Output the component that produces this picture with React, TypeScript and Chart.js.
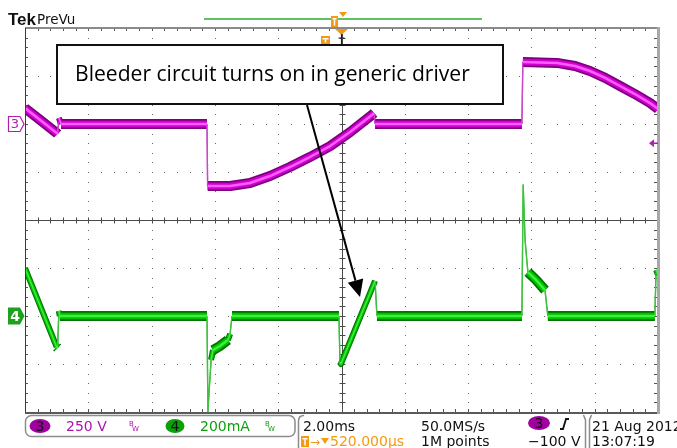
import React, { useEffect, useRef } from "react";
import { Chart, registerables } from "chart.js";

Chart.register(...registerables);

// Channel 3 (magenta) – time in ms relative to trigger, voltage in V
const ch3Time = [-10.0, -9.52, -9.0, -8.97, -8.93, -8.86, -4.25, -4.23, -3.52, -2.89, -2.26, -1.63, -1.0, -0.36, 0.27, 0.96, 1.03, 1.06, 5.7, 5.73, 6.81, 7.38, 7.85, 8.33, 8.8, 9.27, 9.75, 10.0];
const ch3Volts = [83, 21, -47, -52, 31, 0, 0, -323, -323, -307, -271, -224, -172, -115, -42, 47, 57, 0, 0, 323, 318, 302, 276, 240, 198, 156, 109, 78];

// Channel 4 (green) – time in ms, current in mA
const ch4Time = [-10.0, -9.0, -8.97, -8.93, -8.9, -4.25, -4.22, -4.19, -4.12, -4.06, -3.84, -3.59, -3.52, -3.46, -0.08, -0.05, -0.02, 1.06, 1.12, 5.7, 5.74, 5.8, 5.86, 5.89, 6.15, 6.43, 6.52, 9.9, 9.94, 10.0];
const ch4mA = [200, -129, -133, 21, 0, 0, -400, -329, -183, -142, -125, -100, -75, 0, 0, -192, -200, 146, 0, 0, 546, 317, 225, 183, 150, 108, 0, 0, 192, 171];

const timeRange = [-10, 10]; // ms (2.00 ms/div)
const ch3Range = [-1500, 500]; // V (250 V/div)
const ch4Range = [-400, 1200]; // mA (200 mA/div)

const annotationText = "Bleeder circuit turns on in generic driver";
const statusRow1 = { ch3Scale: "250 V", ch4Scale: "200mA", timebase: "2.00ms", rate: "50.0MS/s", date: "21 Aug 2012" };
const statusRow2 = { delay: "520.000µs", points: "1M points", trigLevel: "\u2212100 V", time: "13:07:19" };

const FONT = '"DejaVu Sans", sans-serif';

function segStyle(base: number, mid: number, thin: number, color: string, thinColor: string) {
  const ratio = (c: any) => Math.abs(c.p1.y - c.p0.y) / Math.max(Math.abs(c.p1.x - c.p0.x), 0.01);
  return {
    borderWidth: (c: any) => {
      const r = ratio(c);
      return r > 6 ? thin : r > 1.2 ? mid : base;
    },
    borderColor: (c: any) => (ratio(c) > 6 ? thinColor : color),
  };
}

function layer(data: any[], yAxisID: string, color: string, base: number, mid: number, thin: number, thinColor: string, order: number) {
  return {
    data,
    yAxisID,
    borderColor: color,
    borderWidth: base,
    pointRadius: 0,
    tension: 0,
    fill: false,
    order,
    borderJoinStyle: "round" as const,
    segment: segStyle(base, mid, thin, color, thinColor),
  };
}

function pill(ctx: CanvasRenderingContext2D, cx: number, cy: number, rx: number, ry: number, fill: string, label: string) {
  ctx.beginPath();
  ctx.ellipse(cx, cy, rx, ry, 0, 0, Math.PI * 2);
  ctx.fillStyle = fill;
  ctx.fill();
  ctx.fillStyle = "#111";
  ctx.font = `14px ${FONT}`;
  ctx.textAlign = "center";
  ctx.textBaseline = "middle";
  ctx.fillText(label, cx, cy + 1);
  ctx.textAlign = "left";
}

function tIcon(ctx: CanvasRenderingContext2D, x: number, y: number, w: number, h: number) {
  ctx.fillStyle = "#f39a12";
  ctx.fillRect(x, y, w, h);
  ctx.fillStyle = "#fff";
  ctx.fillRect(x + 1.5, y + 2, w - 3, 1.5);
  ctx.fillRect(x + w / 2 - 0.75, y + 3.5, 1.5, h - 5);
}

const scopePlugin = {
  id: "scope",
  beforeDraw(chart: any) {
    const ctx = chart.ctx as CanvasRenderingContext2D;
    ctx.save();
    ctx.fillStyle = "#fff";
    ctx.fillRect(0, 0, chart.width, chart.height);
    ctx.restore();
  },
  beforeDatasetsDraw(chart: any) {
    const ctx = chart.ctx as CanvasRenderingContext2D;
    const { left, right, top, bottom } = chart.chartArea;
    const dw = (right - left) / 10;
    const dh = (bottom - top) / 8;
    ctx.save();
    // dotted graticule
    ctx.fillStyle = "#6a6a6a";
    for (let i = 1; i < 10; i++) {
      if (i === 5) continue;
      const x = Math.round(left + i * dw);
      for (let k = 1; k < 40; k++) ctx.fillRect(x, Math.round(top + (k * dh) / 5), 1, 1);
    }
    for (let j = 1; j < 8; j++) {
      if (j === 4) continue;
      const y = Math.round(top + j * dh);
      for (let k = 1; k < 50; k++) ctx.fillRect(Math.round(left + (k * dw) / 5), y, 1, 1);
    }
    // centre lines with minor ticks
    ctx.strokeStyle = "#4a4a4a";
    ctx.lineWidth = 1;
    const cy = Math.round(top + 4 * dh) + 0.5;
    const cx = Math.round(left + 5 * dw) + 0.5;
    ctx.beginPath();
    ctx.moveTo(left, cy);
    ctx.lineTo(right, cy);
    ctx.moveTo(cx, top);
    ctx.lineTo(cx, bottom);
    for (let k = 1; k < 50; k++) {
      const x = Math.round(left + (k * dw) / 5) + 0.5;
      ctx.moveTo(x, cy - 3);
      ctx.lineTo(x, cy + 3);
    }
    for (let k = 1; k < 40; k++) {
      const y = Math.round(top + (k * dh) / 5) + 0.5;
      ctx.moveTo(cx - 3, y);
      ctx.lineTo(cx + 3, y);
    }
    ctx.stroke();
    // border ticks
    ctx.strokeStyle = "#555";
    ctx.beginPath();
    for (let k = 1; k < 50; k++) {
      const x = Math.round(left + (k * dw) / 5) + 0.5;
      ctx.moveTo(x, top);
      ctx.lineTo(x, top + 3);
      ctx.moveTo(x, bottom);
      ctx.lineTo(x, bottom - 3);
    }
    for (let k = 1; k < 40; k++) {
      const y = Math.round(top + (k * dh) / 5) + 0.5;
      ctx.moveTo(left, y);
      ctx.lineTo(left + 3, y);
      ctx.moveTo(right, y);
      ctx.lineTo(right - 4, y);
    }
    ctx.stroke();
    ctx.restore();
  },
  afterDatasetsDraw(chart: any) {
    const ctx = chart.ctx as CanvasRenderingContext2D;
    const { left, right, top, bottom } = chart.chartArea;
    ctx.save();
    // frame
    ctx.fillStyle = "#8a8a8a";
    ctx.fillRect(left, top - 1, right - left + 2, 2);
    ctx.fillStyle = "#3a3a3a";
    ctx.fillRect(left, top, 1, bottom - top);
    ctx.fillStyle = "#5a5a5a";
    ctx.fillRect(left, bottom, right - left + 2, 2);
    ctx.fillStyle = "#a8a8a8";
    ctx.fillRect(right - 1, top - 1, 3, bottom - top + 3);

    // annotation box
    const bx = 56, by = 44, bw = 448, bh = 61;
    ctx.fillStyle = "#fff";
    ctx.fillRect(bx, by, bw, bh);
    ctx.strokeStyle = "#111";
    ctx.lineWidth = 2;
    ctx.strokeRect(bx + 1, by + 1, bw - 2, bh - 2);
    let size = 19;
    ctx.font = `${size}px "Open Sans", sans-serif`;
    const m = ctx.measureText(annotationText).width;
    size = (size * 395) / m;
    ctx.font = `${size}px "Open Sans", sans-serif`;
    ctx.fillStyle = "#000";
    ctx.textBaseline = "middle";
    ctx.fillText(annotationText, 75, 75);

    // arrow
    const x0 = 307, y0 = by + bh, tx = 360, ty = 297;
    const ang = Math.atan2(ty - y0, tx - x0);
    const hl = 17, hw = 8;
    const bxp = tx - hl * Math.cos(ang), byp = ty - hl * Math.sin(ang);
    ctx.strokeStyle = "#000";
    ctx.lineWidth = 2;
    ctx.beginPath();
    ctx.moveTo(x0, y0);
    ctx.lineTo(bxp, byp);
    ctx.stroke();
    ctx.beginPath();
    ctx.moveTo(tx, ty);
    ctx.lineTo(bxp + hw * Math.sin(ang), byp - hw * Math.cos(ang));
    ctx.lineTo(bxp - hw * Math.sin(ang), byp + hw * Math.cos(ang));
    ctx.closePath();
    ctx.fillStyle = "#000";
    ctx.fill();

    // channel ground markers
    const y3 = chart.scales.y3.getPixelForValue(0);
    const y4 = chart.scales.y4.getPixelForValue(0);
    ctx.lineWidth = 1.2;
    ctx.strokeStyle = "#b020b0";
    ctx.fillStyle = "#fff";
    ctx.beginPath();
    ctx.moveTo(8.5, y3 - 7.5);
    ctx.lineTo(20, y3 - 7.5);
    ctx.lineTo(24, y3);
    ctx.lineTo(20, y3 + 7.5);
    ctx.lineTo(8.5, y3 + 7.5);
    ctx.closePath();
    ctx.fill();
    ctx.stroke();
    ctx.fillStyle = "#b020b0";
    ctx.font = `13px ${FONT}`;
    ctx.textAlign = "center";
    ctx.fillText("3", 15, y3 + 1);

    ctx.fillStyle = "#1fa01f";
    ctx.beginPath();
    ctx.moveTo(8, y4 - 8.5);
    ctx.lineTo(20, y4 - 8.5);
    ctx.lineTo(24.5, y4);
    ctx.lineTo(20, y4 + 8.5);
    ctx.lineTo(8, y4 + 8.5);
    ctx.closePath();
    ctx.fill();
    ctx.fillStyle = "#fff";
    ctx.font = `bold 14px ${FONT}`;
    ctx.fillText("4", 15, y4 + 1);
    ctx.textAlign = "left";

    // trigger level marker (right)
    const trigY = chart.scales.y3.getPixelForValue(-100);
    ctx.fillStyle = "#b020b0";
    ctx.beginPath();
    ctx.moveTo(649, trigY);
    ctx.lineTo(654, trigY - 4);
    ctx.lineTo(654, trigY + 4);
    ctx.closePath();
    ctx.fill();
    ctx.fillRect(653, trigY - 0.75, 5, 1.5);

    // trigger position marker (top)
    const tpx = chart.scales.x.getPixelForValue(0);
    ctx.fillStyle = "#f39a12";
    ctx.beginPath();
    ctx.moveTo(tpx - 6.5, top + 1);
    ctx.lineTo(tpx + 6.5, top + 1);
    ctx.lineTo(tpx, top + 7);
    ctx.closePath();
    ctx.fill();
    ctx.strokeStyle = "#222";
    ctx.lineWidth = 1.2;
    ctx.beginPath();
    ctx.moveTo(tpx, top + 6);
    ctx.lineTo(tpx, by);
    ctx.moveTo(tpx - 3, top + 10);
    ctx.lineTo(tpx + 3, top + 10);
    ctx.stroke();
    tIcon(ctx, 321, 36, 9, 8);
    ctx.restore();
  },
  afterDraw(chart: any) {
    const ctx = chart.ctx as CanvasRenderingContext2D;
    ctx.save();
    ctx.textBaseline = "alphabetic";
    ctx.textAlign = "left";
    // header
    ctx.fillStyle = "#111";
    ctx.font = 'bold 17px "Liberation Sans", sans-serif';
    ctx.fillText("Tek", 8, 25);
    ctx.font = `13.5px ${FONT}`;
    ctx.fillText("PreVu", 37, 24);
    ctx.fillStyle = "#62c062";
    ctx.fillRect(204, 18, 278, 2);
    tIcon(ctx, 331, 16, 7, 11);
    ctx.fillStyle = "#f39a12";
    ctx.beginPath();
    ctx.moveTo(339, 12);
    ctx.lineTo(347, 12);
    ctx.lineTo(343, 17);
    ctx.closePath();
    ctx.fill();

    // status box 1
    ctx.strokeStyle = "#8c8c8c";
    ctx.lineWidth = 1.5;
    ctx.beginPath();
    ctx.roundRect(25.5, 415.5, 269.5, 21, 6);
    ctx.stroke();
    pill(ctx, 40, 426, 10.5, 7, "#a000a0", "3");
    ctx.textBaseline = "alphabetic";
    ctx.fillStyle = "#b010b0";
    ctx.font = `14px ${FONT}`;
    ctx.fillText(statusRow1.ch3Scale, 66, 431);
    ctx.font = `7px ${FONT}`;
    ctx.fillText("B", 129, 426);
    ctx.fillText("W", 132, 431);
    pill(ctx, 175, 426, 9.5, 7, "#0aa00a", "4");
    ctx.textBaseline = "alphabetic";
    ctx.fillStyle = "#10a010";
    ctx.font = `14px ${FONT}`;
    ctx.fillText(statusRow1.ch4Scale, 200, 431);
    ctx.font = `7px ${FONT}`;
    ctx.fillText("B", 265, 426);
    ctx.fillText("W", 268, 431);

    // status box 2 left edge
    ctx.strokeStyle = "#8c8c8c";
    ctx.beginPath();
    ctx.moveTo(298.5, 448);
    ctx.lineTo(298.5, 421);
    ctx.quadraticCurveTo(298.5, 415.5, 304, 415.5);
    ctx.stroke();
    // divider notch
    ctx.beginPath();
    ctx.moveTo(583.5, 415);
    ctx.lineTo(585.5, 420);
    ctx.lineTo(585.5, 448);
    ctx.moveTo(591.5, 415);
    ctx.lineTo(589.5, 420);
    ctx.lineTo(589.5, 448);
    ctx.stroke();

    ctx.fillStyle = "#111";
    ctx.font = `14px ${FONT}`;
    ctx.fillText(statusRow1.timebase, 303, 431);
    ctx.fillText(statusRow1.rate, 421, 431);
    ctx.fillText(statusRow1.date, 592, 431);
    pill(ctx, 539, 423, 11, 7, "#a000a0", "3");
    ctx.strokeStyle = "#111";
    ctx.lineWidth = 1.8;
    ctx.beginPath();
    ctx.moveTo(560, 429);
    ctx.lineTo(563, 429);
    ctx.lineTo(566, 419);
    ctx.lineTo(569, 419);
    ctx.stroke();

    // row 2
    ctx.textBaseline = "alphabetic";
    tIcon(ctx, 301, 436, 8, 11);
    ctx.fillStyle = "#f39a12";
    ctx.font = `12px ${FONT}`;
    ctx.fillText("\u2192", 310, 446);
    ctx.beginPath();
    ctx.moveTo(321, 438);
    ctx.lineTo(329, 438);
    ctx.lineTo(325, 444);
    ctx.closePath();
    ctx.fill();
    ctx.font = `14px ${FONT}`;
    ctx.fillText(statusRow2.delay, 330, 446);
    ctx.fillStyle = "#111";
    ctx.fillText(statusRow2.points, 421, 446);
    ctx.fillText(statusRow2.trigLevel, 528, 446);
    ctx.fillText(statusRow2.time, 592, 446);
    ctx.restore();
  },
};

export default function App() {
  const ref = useRef<HTMLCanvasElement | null>(null);
  useEffect(() => {
    document.body.style.margin = "0";
    const canvas = ref.current;
    if (!canvas) return;
    const d3 = ch3Time.map((t, i) => ({ x: t, y: ch3Volts[i] }));
    const d4 = ch4Time.map((t, i) => ({ x: t, y: ch4mA[i] }));
    const chart = new Chart(canvas, {
      type: "line",
      data: {
        datasets: [
          layer(d3, "y3", "#ff5cff", 2.5, 1.5, 1.2, "rgba(0,0,0,0)", 0),
          layer(d3, "y3", "#d000d0", 6.5, 4, 1.3, "#c84ac8", 1),
          layer(d3, "y3", "#7c007c", 10, 6, 1.3, "#c84ac8", 2),
          layer(d4, "y4", "#3cf03c", 2.5, 1.5, 1.2, "rgba(0,0,0,0)", 3),
          layer(d4, "y4", "#00c000", 6.5, 4, 1.3, "#40c040", 4),
          layer(d4, "y4", "#007000", 10, 6, 1.3, "#40c040", 5),
        ] as any,
      },
      options: {
        animation: false,
        responsive: false,
        devicePixelRatio: 1,
        events: [],
        layout: { padding: { left: 25, top: 28, right: 19, bottom: 36 } },
        plugins: { legend: { display: false }, tooltip: { enabled: false } },
        scales: {
          x: { type: "linear", min: timeRange[0], max: timeRange[1], display: false },
          y3: { type: "linear", min: ch3Range[0], max: ch3Range[1], display: false },
          y4: { type: "linear", min: ch4Range[0], max: ch4Range[1], display: false },
        },
      } as any,
      plugins: [scopePlugin as any],
    });
    return () => chart.destroy();
  }, []);
  return (
    <div style={{ position: "fixed", left: 0, top: 0, width: 677, height: 448, background: "#fff" }}>
      <canvas ref={ref} width={677} height={448} style={{ width: 677, height: 448, display: "block" }} />
    </div>
  );
}
